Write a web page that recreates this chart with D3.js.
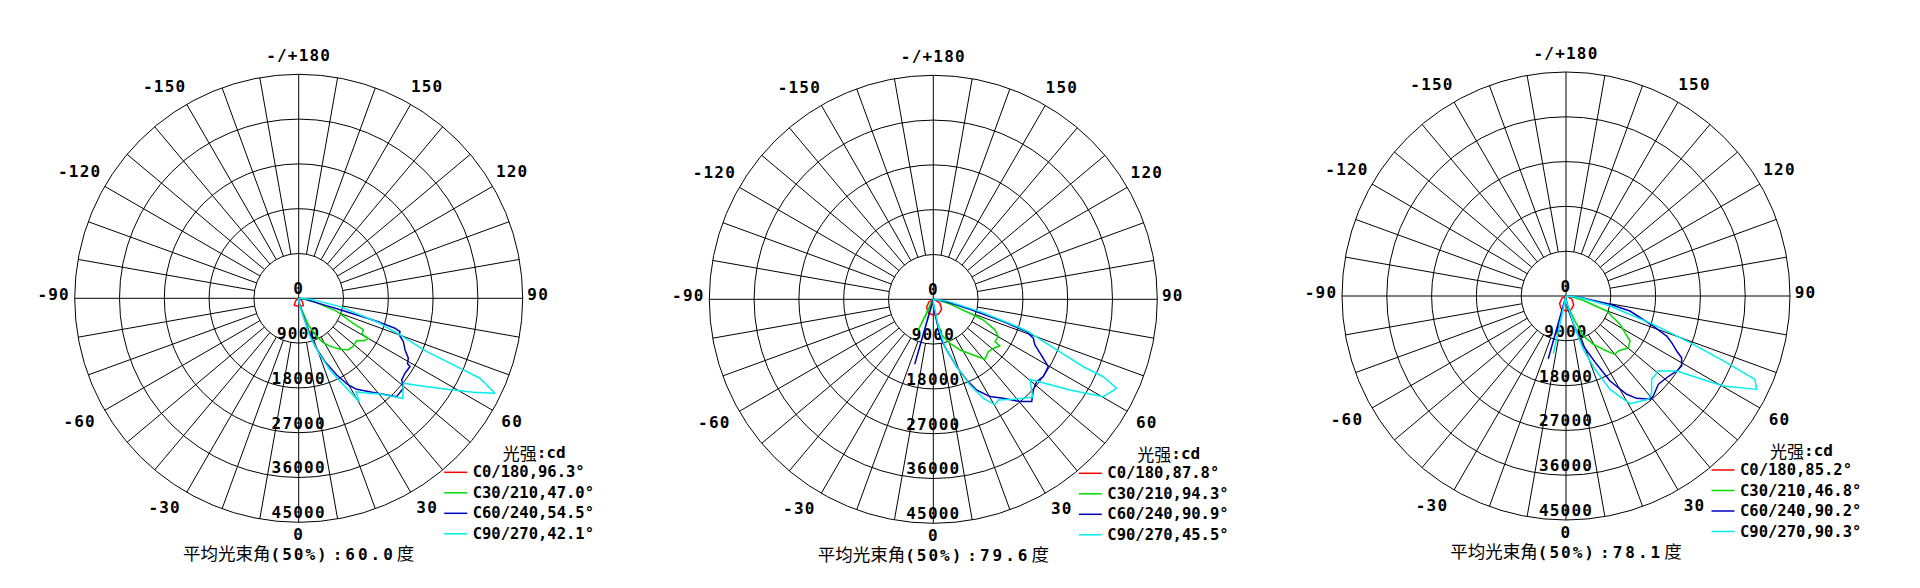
<!DOCTYPE html>
<html><head><meta charset="utf-8">
<script src="https://cdn.jsdelivr.net/npm/d3@7"></script>
<style>body{margin:0;background:#fff}svg{display:block}</style>
</head><body>
<svg id="chart" width="1920" height="588"></svg>
<script>
// ---------------- data ----------------
const ringValues = [9000, 18000, 27000, 36000, 45000];
const radialTickLabels = ["0", "9000", "18000", "27000", "36000", "45000"];
const radialTickValues = [0, 9000, 18000, 27000, 36000, 45000];
const angleTicks = [180, 150, 120, 90, 60, 30, 0, -30, -60, -90, -120, -150];
const angleTickLabels = ["-/+180", "150", "120", "90", "60", "30", "0", "-30", "-60", "-90", "-120", "-150"];
const seriesNames = ["C0/180", "C30/210", "C60/240", "C90/270"];
const seriesColors = ["#ff0000", "#00dd00", "#0000c0", "#00eeee"];
const legendTitle = ["光强", ":cd"];
const titleValues = ["60.0", "79.6", "78.1"];
const beamAngles1 = ["96.3", "47.0", "54.5", "42.1"];
const beamAngles2 = ["87.8", "94.3", "90.9", "45.5"];
const beamAngles3 = ["85.2", "46.8", "90.2", "90.3"];

// [gamma angle (deg), intensity (cd)]
const c1_C0 = [[-90,0],[-60,500],[-45,1000],[-32,1650],[-15,1600],[0,1550],[15,1600],[32,1750],[45,1100],[60,500],[90,0]];
const c1_C30 = [[-90,0],[-30,200],[0,600],[10,1500],[17,3150],[20,5700],[25,8500],[29,10190],[33,11460],[39,13190],[44,14400],[49,14570],[54,14420],[57,15680],[60,16140],[60.5,14550],[64,14460],[65,12520],[66,11330],[71,8090],[78,3000],[85,800],[90,0]];
const c1_C60 = [[-90,0],[0,500],[12,2000],[16,5000],[17.5,7500],[19,10250],[22.6,13780],[26.4,17190],[29.8,20070],[32.5,21680],[38.4,24170],[44.9,27890],[49.3,27730],[51.6,26400],[54.8,26120],[58.5,26240],[59,25500],[61.3,25110],[64.1,23750],[67.5,22760],[70,21500],[71.8,21430],[72.7,20270],[73.5,17000],[74,12860],[74.5,8630],[76,4000],[80,1500],[90,0]];
const c1_C90 = [[-90,0],[0,500],[10,1500],[14.3,3800],[16.5,8030],[20.6,12160],[23.6,15710],[27.3,19590],[30.4,24070],[31.5,22000],[34.4,22970],[40.4,25220],[46.1,29000],[50.9,27090],[54.2,30070],[58.4,34900],[61.7,39840],[64.2,43800],[66.2,39800],[66.7,33830],[67.4,27860],[70.1,21650],[72.9,17090],[78.6,8470],[84,3000],[90,0]];

const c2_C0 = [[-90,0],[-60,1000],[-40,2100],[-20,2900],[0,3150],[20,3150],[40,2600],[60,1500],[90,200]];
const c2_C30 = [[-90,0],[-40,300],[-30,1000],[-26,6860],[-22,1000],[-10,600],[0,800],[5,2000],[9.2,4200],[13.2,7360],[20.7,9450],[27.8,11500],[35.7,13770],[40.7,15900],[46.4,15250],[50.8,15560],[55,16350],[55.5,15030],[60.1,15060],[63.6,13830],[67.5,10860],[69.1,7880],[75,3000],[85,800],[90,0]];
const c2_C60 = [[-90,0],[-20,300],[-16,13400],[-12,300],[0,800],[6.8,2830],[10.1,7620],[14.7,10520],[19.1,14320],[22.5,17530],[25.5,20190],[30.2,22620],[35.3,24360],[40.3,26940],[43.9,28510],[47.8,27120],[51.5,26540],[54.9,27000],[59.6,26770],[61.8,25070],[63.2,24020],[65.8,22380],[68.7,21560],[70.9,19840],[72.3,14760],[74.7,7630],[80,2500],[90,0]];
const c2_C90 = [[-90,0],[0,800],[8.9,2170],[10.4,5580],[13.8,9790],[19.1,14320],[23.2,18720],[26.8,22280],[30.3,24580],[32.9,24070],[38.7,25720],[45.4,28030],[50.4,25200],[56.4,32940],[60.2,39350],[64.1,40930],[65.5,37520],[65.8,33040],[67.7,26780],[71.4,19770],[72.2,16880],[75.2,9700],[82,3000],[90,0]];

const c3_C0 = [[-90,0],[-60,1000],[-40,2000],[-20,2800],[0,3000],[20,2950],[40,2400],[60,1400],[90,200]];
const c3_C30 = [[-90,0],[0,700],[10,2000],[19.8,5340],[23.4,8760],[29.5,11150],[36.5,13750],[40,15300],[43.6,15250],[50.3,16260],[54.9,15720],[58.1,13950],[62.3,12250],[69.8,8710],[76,3500],[85,800],[90,0]];
const c3_C60 = [[-90,0],[-20,300],[-15.8,13000],[-12,400],[0,800],[10,3000],[15.9,6610],[19.1,10630],[24.2,15050],[27.4,19230],[31.7,23210],[34.6,24980],[39.1,26750],[41.1,26670],[46.3,25670],[50.9,26040],[55.9,26850],[58.8,27160],[61.9,26330],[63.6,24820],[66.2,23200],[68.3,21760],[71,18550],[76.8,13200],[79.3,8990],[84,3000],[90,0]];
const c3_C90 = [[-90,0],[-16,300],[-12.3,11760],[-9,400],[0,800],[12,2500],[15.9,6610],[18,11260],[21.6,15840],[25.2,20730],[30.7,25160],[38.6,26540],[41.5,25950],[45.8,24010],[50.9,23900],[55.9,26850],[60.2,36410],[63.9,42640],[66.2,41490],[67.6,34190],[69.4,26620],[72,18440],[77.2,9060],[83,3000],[90,0]];

// ---------------- layout ----------------
const R = 224;
const charts = [
  {cx: 298.7, cy: 298.3, series: [c1_C0, c1_C30, c1_C60, c1_C90], beams: beamAngles1, title: titleValues[0]},
  {cx: 933.3, cy: 299.3, series: [c2_C0, c2_C30, c2_C60, c2_C90], beams: beamAngles2, title: titleValues[1]},
  {cx: 1566.0, cy: 296.0, series: [c3_C0, c3_C30, c3_C60, c3_C90], beams: beamAngles3, title: titleValues[2]}
];
const MONO = "'DejaVu Sans Mono', 'Liberation Mono', monospace";
const CJK = "'Noto Sans CJK SC', 'Noto Sans', sans-serif";

const svg = d3.select("#chart");
svg.append("rect").attr("width", 1920).attr("height", 588).attr("fill", "#fff");

const r = d3.scaleLinear().domain([0, 45000]).range([0, R]);
const rad = d => d * Math.PI / 180;

function angleLabelPos(a) {
  const s = Math.sin(rad(a)), c = Math.cos(rad(a));
  if (a % 90 === 0) return [239.5 * s, 239.5 * c - 3.5];
  if (Math.abs(s) < 0.7) return [Math.sign(s) * 128.5, Math.sign(c) * 210.3 - 1.2];
  return [Math.sign(s) * 213.5, Math.sign(c) * 125 - 1.5];
}

charts.forEach(ch => {
  const g = svg.append("g").attr("transform", `translate(${ch.cx},${ch.cy})`);
  const grid = g.append("g").attr("stroke", "#000").attr("stroke-width", 1).attr("fill", "none");

  grid.selectAll("circle").data(ringValues).join("circle")
    .attr("r", d => r(d));

  const spokes = d3.range(0, 360, 10).filter(a => a % 90 !== 0);
  grid.selectAll("line.spoke").data(spokes).join("line").attr("class", "spoke")
    .attr("x1", a => r(ringValues[0]) * Math.sin(rad(a)))
    .attr("y1", a => r(ringValues[0]) * Math.cos(rad(a)))
    .attr("x2", a => R * Math.sin(rad(a)))
    .attr("y2", a => R * Math.cos(rad(a)));
  grid.selectAll("line.axis").data([0, 90]).join("line").attr("class", "axis")
    .attr("x1", a => -R * Math.sin(rad(a)))
    .attr("y1", a => -R * Math.cos(rad(a)))
    .attr("x2", a => R * Math.sin(rad(a)))
    .attr("y2", a => R * Math.cos(rad(a)));

  g.selectAll("text.ang").data(angleTicks).join("text").attr("class", "ang")
    .attr("x", a => angleLabelPos(a)[0] - (a < 0 ? 5.5 : 0))
    .attr("y", a => angleLabelPos(a)[1])
    .attr("text-anchor", "middle").attr("dominant-baseline", "central")
    .attr("font-family", MONO).attr("font-size", 16).attr("font-weight", "bold").attr("letter-spacing", 1.2)
    .attr("fill", "#000")
    .text((a, i) => angleTickLabels[i]);

  g.selectAll("text.rad").data(radialTickValues).join("text").attr("class", "rad")
    .attr("x", 0).attr("y", v => r(v) - 9.5)
    .attr("text-anchor", "middle").attr("dominant-baseline", "central")
    .attr("font-family", MONO).attr("font-size", 16).attr("font-weight", "bold").attr("letter-spacing", 1.2)
    .attr("fill", "#000")
    .text((v, i) => radialTickLabels[i]);

  const line = d3.lineRadial()
    .angle(d => Math.PI - rad(d[0]))
    .radius(d => r(d[1]));
  g.selectAll("path.curve").data(ch.series).join("path").attr("class", "curve")
    .attr("d", d => line(d))
    .attr("fill", "none")
    .attr("stroke", (d, i) => seriesColors[i])
    .attr("stroke-width", 1.5)
    .attr("stroke-linejoin", "round");

  const lt = g.append("text").attr("x", 235.5).attr("y", 153.5)
    .attr("text-anchor", "middle").attr("dominant-baseline", "central").attr("fill", "#000");
  lt.append("tspan").attr("font-family", CJK).attr("font-size", 17).text(legendTitle[0]);
  lt.append("tspan").attr("font-family", MONO).attr("font-size", 16).attr("font-weight", "bold").text(legendTitle[1]);

  const items = g.selectAll("g.leg").data(seriesNames).join("g").attr("class", "leg")
    .attr("transform", (d, i) => `translate(0,${174 + 20.5 * i})`);
  items.append("line").attr("x1", 145.5).attr("x2", 168.5).attr("y1", 0).attr("y2", 0)
    .attr("stroke", (d, i) => seriesColors[i]).attr("stroke-width", 1.5);
  items.append("text").attr("x", 174).attr("y", 0).attr("dominant-baseline", "central")
    .attr("font-family", MONO).attr("font-size", 15.5).attr("font-weight", "bold").attr("fill", "#000")
    .text((d, i) => `${d},${ch.beams[i]}°`);

  const t = g.append("text").attr("x", 0).attr("y", 261.5).attr("text-anchor", "middle").attr("fill", "#000");
  t.append("tspan").attr("font-family", CJK).attr("font-size", 17.5).text("平均光束角");
  t.append("tspan").attr("font-family", MONO).attr("font-size", 16).attr("font-weight", "bold").attr("letter-spacing", 2).text("(50%)");
  t.append("tspan").attr("font-family", MONO).attr("font-size", 16).attr("font-weight", "bold").attr("dx", 4).attr("letter-spacing", 3).text(":" + ch.title);
  t.append("tspan").attr("font-family", CJK).attr("font-size", 17.5).attr("dx", 1).text("度");
});
</script>
</body></html>
